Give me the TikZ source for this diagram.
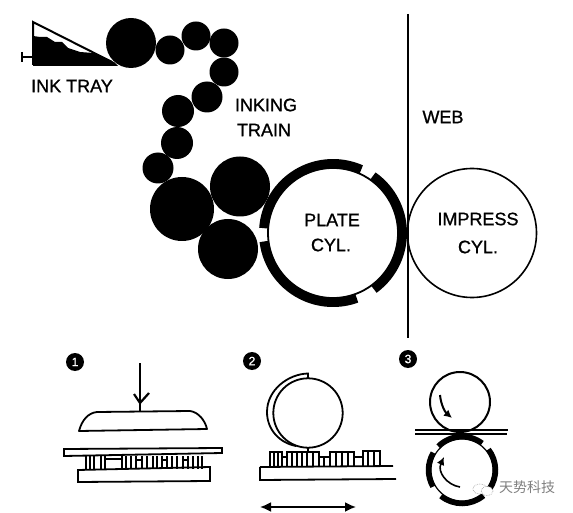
\documentclass[tikz,border=0pt]{standalone}
\usepackage{fontspec}
\setmainfont[AutoFakeBold=1.2]{Liberation Sans}
\newfontfamily\lblfont[FakeBold=1.0]{Liberation Sans}
\newfontfamily\cjkfont{Noto Sans CJK SC}
\usetikzlibrary{arrows.meta}
\definecolor{wm}{gray}{0.5}
\tikzset{
  lbl/.style={inner sep=0pt,font=\lblfont\fontsize{18}{20}\selectfont},
  badge/.style={circle,fill=black,text=white,minimum size=18pt,inner sep=0pt,font=\lblfont\fontsize{12}{12}\selectfont},
  roller/.style={fill=black},
  ln/.style={line width=1.8pt,black},
  thin type/.style={line width=1.1pt,black},
  sleeve/.style={line width=9pt,black},
  sleeve small/.style={line width=5.5pt,black},
}
\newcommand{\ringseg}[6]{\draw[#6] (#1,#2) ++(-#4:#3) arc (-#4:-#5:#3);}
\begin{document}
\begin{tikzpicture}[x=1pt,y=-1pt]
\useasboundingbox (0,0) rectangle (573,513);
% ink tray
\fill (33,36) -- (40,37) -- (47,37) -- (55,42) -- (62,42) -- (68,48) -- (80,52) -- (93,53) -- (103,57) -- (114,62) -- (118,66) -- (33,66) -- cycle;
\draw[line width=2pt,line join=miter] (33,65) -- (33,22) -- (112,62);
\draw[line width=2pt] (22,57) -- (33,57);
\draw[line width=2pt] (22,52) -- (22,62);
% rollers
\foreach \x/\y/\r in {131/43/25,170/50/14.5,196/36/14.5,224/43/14.5,224/72/14.5,207/97/15.5,178/111/16,177/143/16,158/168/15.5,182/209/32,240/186.5/30,228/249/30}
  \fill[roller] (\x,\y) circle (\r);
% plate cylinder
\draw[ln] (333,233) circle (65);
\ringseg{333}{233}{69.5}{-54}{55}{sleeve}
\ringseg{333}{233}{69.5}{66}{176}{sleeve}
\ringseg{333}{233}{69.5}{187}{290}{sleeve}
% impression cylinder and web
\draw[line width=1.6pt] (472,233) circle (64.5);
\draw[line width=2.4pt] (408,14) -- (408,338);
% labels
\node[lbl] (inktray) at (72,86) {INK TRAY};
\node[lbl] (inking) at (266,105) {INKING};
\node[lbl] (train) at (264,130) {TRAIN};
\node[lbl] (web) at (443,117) {WEB};
\node[lbl] (plate) at (332,220) {PLATE};
\node[lbl] (cyla) at (331,245) {CYL.};
\node[lbl] (impress) at (478,219) {IMPRESS};
\node[lbl] (cylb) at (478,247) {CYL.};
% panel 1
\node[badge] (b1) at (75,362) {1};
\coordinate (a1s) at (140,363);
\coordinate (a1e) at (140,411);
\draw[ln] (a1s) -- (a1e);
\draw[line width=2.2pt] (134,394) -- (140,403) -- (149,393);
\draw[ln,line join=round] (79,431) .. controls (82,420) and (88,413) .. (97,412) -- (190,411) .. controls (198,412) and (205,420) .. (207,429) -- cycle;
\draw[ln] (64,449) -- (222,448) -- (222,453) -- (64,456) -- cycle;
\draw[ln] (78,470) -- (210,467) -- (210,481) -- (78,482) -- cycle;
\foreach \x in {86,90,94,101,105,122,126,131,136,142,147,153,157,162,167,172,177,183,188,193,198,202}
  \draw[thin type] (\x,456) -- (\x,469);
\draw[thin type] (106,459) -- (121,459);
\foreach \a/\b in {136/142,162/167,183/188}
  \draw[thin type] (\a,460) -- (\b,460);
% panel 2
\node[badge] (b2) at (252,361) {2};
\draw[ln] (308,413) circle (34.7);
\draw[ln] (308,378) -- (308,373.5)
  .. controls (288,374) and (267,390) .. (267,412)
  .. controls (267,430) and (280,443) .. (296,446);
\draw[ln] (308,448) -- (308,452);
\draw[ln] (260,467) -- (393,466);
\draw[ln] (260,467) -- (260,480) -- (396,479);
\draw[thin type] (270,467) -- (270,452) -- (282,452) -- (282,467);
\draw[thin type] (287,467) -- (287,452) -- (319,452) -- (319,467);
\draw[thin type] (330,467) -- (330,452) -- (354,452) -- (354,467);
\draw[thin type] (363,467) -- (363,451) -- (380,451) -- (380,467);
\foreach \x/\t in {274/452,278/452,292/452,297/452,302/452,307/452,313/452,324/457,336/452,342/452,348/452,368/451,374/451}
  \draw[thin type] (\x,\t) -- (\x,467);
\foreach \a/\b in {282/287,319/330,354/363}
  \draw[thin type] (\a,457) -- (\b,457);
\coordinate (a2l) at (260,507);
\coordinate (a2r) at (356,507);
\draw[line width=1.8pt,{Latex[length=11pt,width=10pt]}-{Latex[length=11pt,width=10pt]}] (a2l) -- (a2r);
% panel 3
\node[badge] (b3) at (408,359) {3};
\draw[line width=2pt] (460,402) circle (30);
\draw[ln] (415,430) -- (508,430);
\draw[ln] (415,434) -- (507,434);
\draw[line width=2pt,-{Latex[length=8pt,width=8pt]}] (440,395) .. controls (441,405) and (445,412) .. (452,418);
\draw[line width=1.2pt] (462,470) circle (31);
\ringseg{462}{470}{33.5}{53}{135}{sleeve small}
\ringseg{462}{470}{33.5}{149}{210}{sleeve small}
\ringseg{462}{470}{33.5}{231}{310}{sleeve small}
\ringseg{462}{470}{33.5}{-35}{38}{sleeve small}
\draw[line width=1.6pt,-{Latex[length=8pt,width=8pt]}] (460,487) .. controls (447,485) and (437,472) .. (444,457);
% watermark
\draw[wm!70,line width=0.7pt,densely dotted,fill=white] (480,489) ellipse (7 and 5);
\draw[wm!70,line width=0.7pt,densely dotted,fill=white] (487,491) ellipse (6 and 4.5);
\node[inner sep=0pt,text=wm,font=\cjkfont\fontsize{14}{14}\selectfont] (mark) at (527,487) {天势科技};
\end{tikzpicture}
\end{document}
